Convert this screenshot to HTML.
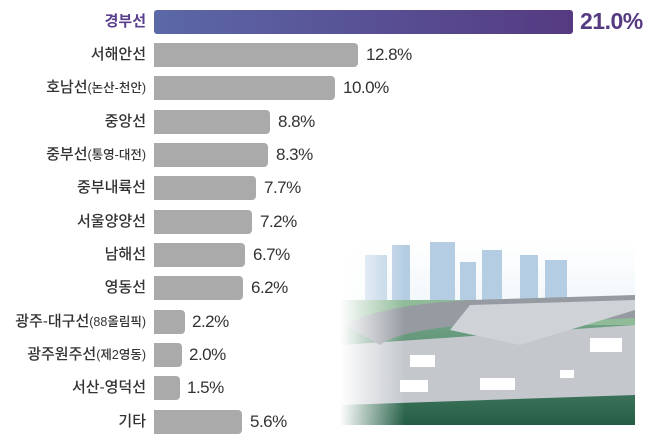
<!DOCTYPE html>
<html><head><meta charset="utf-8"><style>
body{margin:0;width:650px;height:443px;background:#fff;overflow:hidden;position:relative;font-family:"Liberation Sans","Noto Sans CJK KR",sans-serif}
.l{position:absolute;right:504px;font-size:15px;color:#333;white-space:nowrap;line-height:24px;font-weight:500}
.l small{font-size:12.5px}
.b{position:absolute;left:154px;height:24px;background:#aaa;border-radius:0 4px 4px 0}
.v{position:absolute;font-size:17px;color:#333;line-height:24px;font-weight:500;letter-spacing:-0.5px}
svg{position:absolute;left:0;top:0}
</style></head><body>
<svg width="650" height="443">
<defs>
<linearGradient id="sky" x1="0" y1="0" x2="0" y2="1"><stop offset="0" stop-color="#fff"/><stop offset="1" stop-color="#d9e8f0"/></linearGradient>
<linearGradient id="gr" x1="0" y1="0" x2="0" y2="1"><stop offset="0" stop-color="#6fa184"/><stop offset="1" stop-color="#245d46"/></linearGradient>
<linearGradient id="fade" x1="0" y1="0" x2="1" y2="0"><stop offset="0" stop-color="#fff"/><stop offset="0.22" stop-color="#fff" stop-opacity="0"/></linearGradient>
</defs>
<rect x="340" y="240" width="295" height="185" fill="url(#sky)"/>
<g fill="#b5cde2"><rect x="365" y="255" width="22" height="60"/><rect x="392" y="245" width="18" height="70"/><rect x="430" y="242" width="25" height="75"/><rect x="460" y="262" width="16" height="55"/><rect x="482" y="250" width="20" height="65"/><rect x="520" y="255" width="18" height="60"/><rect x="545" y="260" width="22" height="55"/></g>
<rect x="340" y="300" width="295" height="25" fill="#8fbb98"/>
<rect x="340" y="325" width="295" height="100" fill="url(#gr)"/>
<path d="M340 345 L635 325 L635 395 L340 405Z" fill="#c4c8cd"/>
<path d="M345 325 Q380 305 470 300 L635 295 L635 318 L470 325 Q400 330 380 345Z" fill="#969ba2"/>
<path d="M470 305 L635 300 L635 310 L520 345 L450 330Z" fill="#cfd3d7"/>
<g fill="#fff"><rect x="590" y="338" width="32" height="14"/><rect x="480" y="378" width="35" height="12"/><rect x="400" y="380" width="28" height="12"/><rect x="410" y="355" width="25" height="12"/><rect x="560" y="370" width="14" height="8"/></g>
<rect x="340" y="240" width="295" height="185" fill="url(#fade)"/>
<defs><linearGradient id="pb" x1="0" x2="1"><stop offset="0" stop-color="#5b68a8"/><stop offset="1" stop-color="#553a82"/></linearGradient></defs>
<rect x="154" y="10" width="419" height="24" rx="3" fill="url(#pb)"/>
</svg>
<div class="l" style="top:10px;color:#5a3f8c;font-weight:bold">경부선</div>
<div class="v" style="top:9px;left:580px;font-size:23px;color:#553a82;font-weight:bold">21.0%</div>
<div class="l" style="top:43px">서해안선</div><div class="b" style="top:43px;width:204px"></div><div class="v" style="top:43px;left:366px">12.8%</div>
<div class="l" style="top:76px">호남선<small>(논산-천안)</small></div><div class="b" style="top:76px;width:181px"></div><div class="v" style="top:76px;left:343px">10.0%</div>
<div class="l" style="top:110px">중앙선</div><div class="b" style="top:110px;width:116px"></div><div class="v" style="top:110px;left:278px">8.8%</div>
<div class="l" style="top:143px">중부선<small>(통영-대전)</small></div><div class="b" style="top:143px;width:114px"></div><div class="v" style="top:143px;left:276px">8.3%</div>
<div class="l" style="top:176px">중부내륙선</div><div class="b" style="top:176px;width:102px"></div><div class="v" style="top:176px;left:264px">7.7%</div>
<div class="l" style="top:210px">서울양양선</div><div class="b" style="top:210px;width:98px"></div><div class="v" style="top:210px;left:260px">7.2%</div>
<div class="l" style="top:243px">남해선</div><div class="b" style="top:243px;width:91px"></div><div class="v" style="top:243px;left:253px">6.7%</div>
<div class="l" style="top:276px">영동선</div><div class="b" style="top:276px;width:89px"></div><div class="v" style="top:276px;left:251px">6.2%</div>
<div class="l" style="top:310px">광주-대구선<small>(88올림픽)</small></div><div class="b" style="top:310px;width:31px"></div><div class="v" style="top:310px;left:192px">2.2%</div>
<div class="l" style="top:343px">광주원주선<small>(제2영동)</small></div><div class="b" style="top:343px;width:28px"></div><div class="v" style="top:343px;left:189px">2.0%</div>
<div class="l" style="top:376px">서산-영덕선</div><div class="b" style="top:376px;width:26px"></div><div class="v" style="top:376px;left:187px">1.5%</div>
<div class="l" style="top:410px">기타</div><div class="b" style="top:410px;width:88px"></div><div class="v" style="top:410px;left:250px">5.6%</div>
</body></html>
